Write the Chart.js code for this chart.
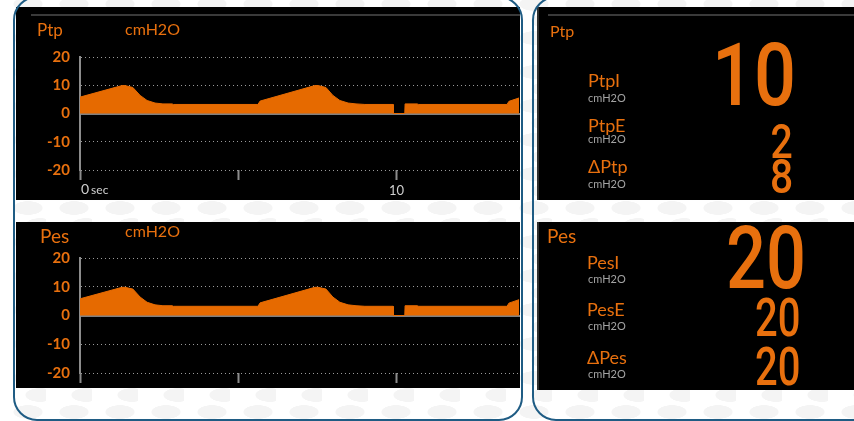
<!DOCTYPE html>
<html lang="en">
<head>
<meta charset="UTF-8">
<title>Ptp / Pes</title>
<script src="https://cdn.jsdelivr.net/npm/chart.js@4"></script>
<style>
    html, body {
        margin: 0;
        width: 854px;
        height: 421px;
        overflow: hidden;
    }
    body {
        position: relative;
        font-family: Lato, "Open Sans", sans-serif;
        background-color: #fff;
        background-image:
            radial-gradient(ellipse 15px 7px at 40px 21px, #f4f4f4 94%, rgba(244,244,244,0) 100%),
            radial-gradient(ellipse 15px 7px at 28px 4px, #f4f4f4 94%, rgba(244,244,244,0) 100%),
            radial-gradient(ellipse 15px 7px at 28px 38px, #f4f4f4 94%, rgba(244,244,244,0) 100%);
        background-size: 46px 34px;
    }
    .panel {
        position: absolute;
        background: #000;
        overflow: hidden;
    }
    .panel canvas {
        position: absolute;
        left: 0;
    }
    .rule {
        position: absolute;
        top: 7px;
        height: 2px;
        background: #3a3a3a;
    }
    .frame {
        position: absolute;
        border: 2px solid #1f5c84;
        border-radius: 24px;
        box-sizing: border-box;
    }
    .txt {
        position: absolute;
        line-height: 1;
        white-space: nowrap;
        color: #e8700e;
    }
    .unit {
        position: absolute;
        line-height: 1;
        font-size: 11px;
        color: #a3a3a3;
    }
    .num {
        position: absolute;
        line-height: 1;
        font-family: Roboto, "Liberation Sans", sans-serif;
        font-weight: 500;
        color: #e8700e;
        text-align: right;
        transform-origin: right top;
    }
</style>
</head>
<body>

<div class="panel" style="left:16px;top:7px;width:504px;height:193px">
    <div class="rule" style="left:15px;width:489px"></div>
    <canvas id="ptpChart" width="504" height="162" style="top:31px"></canvas>
</div>
<div class="panel" style="left:16px;top:222px;width:504px;height:166px">
    <canvas id="pesChart" width="504" height="164" style="top:17px"></canvas>
</div>
<div class="panel" style="left:537px;top:7px;width:317px;height:193px;border-left:2px solid #2e2e2e">
    <div class="rule" style="left:9px;width:308px"></div>
</div>
<div class="panel" style="left:537px;top:222px;width:317px;height:168px;border-left:2px solid #2e2e2e"></div>

<div class="frame" style="left:13px;top:-4px;width:510px;height:425px"></div>
<div class="frame" style="left:532px;top:-4px;width:400px;height:425px"></div>

<!-- waveform panel titles -->
<div class="txt" style="left:37px;top:21px;font-size:17px">Ptp</div>
<div class="txt" style="left:125px;top:21px;font-size:16px">cmH2O</div>
<div class="txt" style="left:40px;top:226px;font-size:19px">Pes</div>
<div class="txt" style="left:125px;top:223px;font-size:16px">cmH2O</div>

<!-- Ptp numerics -->
<div class="txt" style="left:550px;top:23px;font-size:16px">Ptp</div>
<div class="txt" style="left:588px;top:71px;font-size:18px">PtpI</div>
<div class="unit" style="left:588px;top:92px">cmH2O</div>
<div class="txt" style="left:588px;top:116px;font-size:18px">PtpE</div>
<div class="unit" style="left:588px;top:133px">cmH2O</div>
<div class="txt" style="left:588px;top:157px;font-size:18px">ΔPtp</div>
<div class="unit" style="left:588px;top:178px">cmH2O</div>
<div class="num" id="ptpI" style="right:58px;top:31px;font-size:88px;transform:scaleX(0.84)"></div>
<div class="num" id="ptpE" style="right:61px;top:117px;font-size:49px;transform:scaleX(0.8)"></div>
<div class="num" id="ptpD" style="right:61px;top:153px;font-size:48px;transform:scaleX(0.85)"></div>

<!-- Pes numerics -->
<div class="txt" style="left:547px;top:226px;font-size:19px">Pes</div>
<div class="txt" style="left:587px;top:253px;font-size:18px">PesI</div>
<div class="unit" style="left:588px;top:273px">cmH2O</div>
<div class="txt" style="left:587px;top:300px;font-size:18px">PesE</div>
<div class="unit" style="left:588px;top:320px">cmH2O</div>
<div class="txt" style="left:587px;top:348px;font-size:18px">ΔPes</div>
<div class="unit" style="left:588px;top:368px">cmH2O</div>
<div class="num" id="pesI" style="right:48px;top:214px;font-size:88px;transform:scaleX(0.8)"></div>
<div class="num" id="pesE" style="right:54px;top:291px;font-size:54px;transform:scaleX(0.74)"></div>
<div class="num" id="pesD" style="right:54px;top:340px;font-size:54px;transform:scaleX(0.74)"></div>

<script>
    // waveform samples (seconds / cmH2O)
    const seconds = [0, 1.33, 1.42, 1.67, 1.90, 2.12, 2.37, 2.62, 2.91, 2.95, 5.62, 5.69, 7.42, 7.52, 7.77,
        7.99, 8.21, 8.47, 8.72, 9.00, 9.89, 9.90, 10.26, 10.27, 10.65, 10.70, 13.49, 13.55, 13.87];
    const ptpValues = [5.8, 9.9, 9.9, 9.2, 6.4, 4.6, 3.7, 3.4, 3.4, 3.2, 3.2, 4.4, 9.9, 9.9, 9.2,
        6.4, 4.6, 3.7, 3.4, 3.2, 3.2, 0, 0, 3.4, 3.4, 3.2, 3.2, 4.3, 5.5];
    const pesValues = [5.8, 9.8, 9.8, 9.2, 6.4, 4.6, 3.7, 3.4, 3.4, 3.2, 3.2, 4.4, 9.8, 9.8, 9.2,
        6.4, 4.6, 3.7, 3.4, 3.2, 3.2, 0, 0, 3.4, 3.4, 3.2, 3.2, 4.3, 5.5];

    const yTicks = [-20, -10, 0, 10, 20];
    const xTicks = [0, 5, 10];
    const xMax = 13.9;

    // numeric readouts
    const ptpReadout = { ptpI: 10, ptpE: 2, ptpD: 8 };
    const pesReadout = { pesI: 20, pesE: 20, pesD: 20 };

    const ORANGE = '#e8700e';
    const FILL = '#e66a00';

    Object.entries(Object.assign({}, ptpReadout, pesReadout)).forEach(([id, v]) => {
        document.getElementById(id).textContent = v;
    });

    // "0 sec" label sits right of the origin tick
    const zeroLabel = {
        id: 'zeroLabel',
        afterDraw(chart) {
            const x = chart.scales.x;
            const ctx = chart.ctx;
            const px = x.getPixelForValue(0) + 1;
            const py = x.top + 24;
            ctx.save();
            ctx.fillStyle = '#cfcfcf';
            ctx.textBaseline = 'alphabetic';
            ctx.textAlign = 'left';
            ctx.font = '14px Lato';
            ctx.fillText('0', px, py);
            const w = ctx.measureText('0').width;
            ctx.font = '12px Lato';
            ctx.fillText('sec', px + w + 2, py);
            ctx.restore();
        }
    };

    const createChart = (id, values, withLabel) => new Chart(document.getElementById(id), {
        type: 'line',
        data: {
            datasets: [{
                data: seconds.map((s, i) => ({ x: s, y: values[i] })),
                borderColor: FILL,
                borderWidth: 1,
                backgroundColor: FILL,
                fill: 'origin',
                pointRadius: 0,
                tension: 0
            }]
        },
        options: {
            responsive: false,
            animation: false,
            layout: { padding: { top: 12, right: 0, left: 0, bottom: 0 } },
            plugins: { legend: { display: false }, tooltip: { enabled: false } },
            scales: {
                x: {
                    type: 'linear',
                    min: 0,
                    max: xMax,
                    afterBuildTicks: s => { s.ticks = xTicks.map(v => ({ value: v })); },
                    afterFit: s => { s.height = 30; },
                    grid: { drawOnChartArea: false, drawTicks: true, tickLength: 10, tickColor: '#8c8c8c', tickWidth: 2 },
                    border: { display: false },
                    ticks: {
                        color: '#cfcfcf',
                        font: { family: 'Lato', size: 13 },
                        padding: 3,
                        maxRotation: 0,
                        callback: v => v === 10 ? '10' : ''
                    }
                },
                y: {
                    min: -20,
                    max: 20,
                    afterBuildTicks: s => { s.ticks = yTicks.map(v => ({ value: v })); },
                    afterFit: s => { s.width = 64; },
                    grid: { drawTicks: false, color: '#9a9a9a', lineWidth: 1 },
                    border: { display: true, color: '#8c8c8c', width: 2, dash: [1, 3] },
                    ticks: {
                        color: ORANGE,
                        font: { family: 'Lato', size: 15, weight: 'bold' },
                        padding: 10
                    }
                },
                zero: {
                    position: 'left',
                    min: -20,
                    max: 20,
                    afterBuildTicks: s => { s.ticks = [{ value: 0 }]; },
                    afterFit: s => { s.width = 0; },
                    grid: { drawTicks: false, color: '#808080', lineWidth: 2 },
                    border: { display: false },
                    ticks: { display: false }
                }
            }
        },
        plugins: withLabel ? [zeroLabel] : []
    });

    createChart('ptpChart', ptpValues, true);
    createChart('pesChart', pesValues, false);
</script>
</body>
</html>
